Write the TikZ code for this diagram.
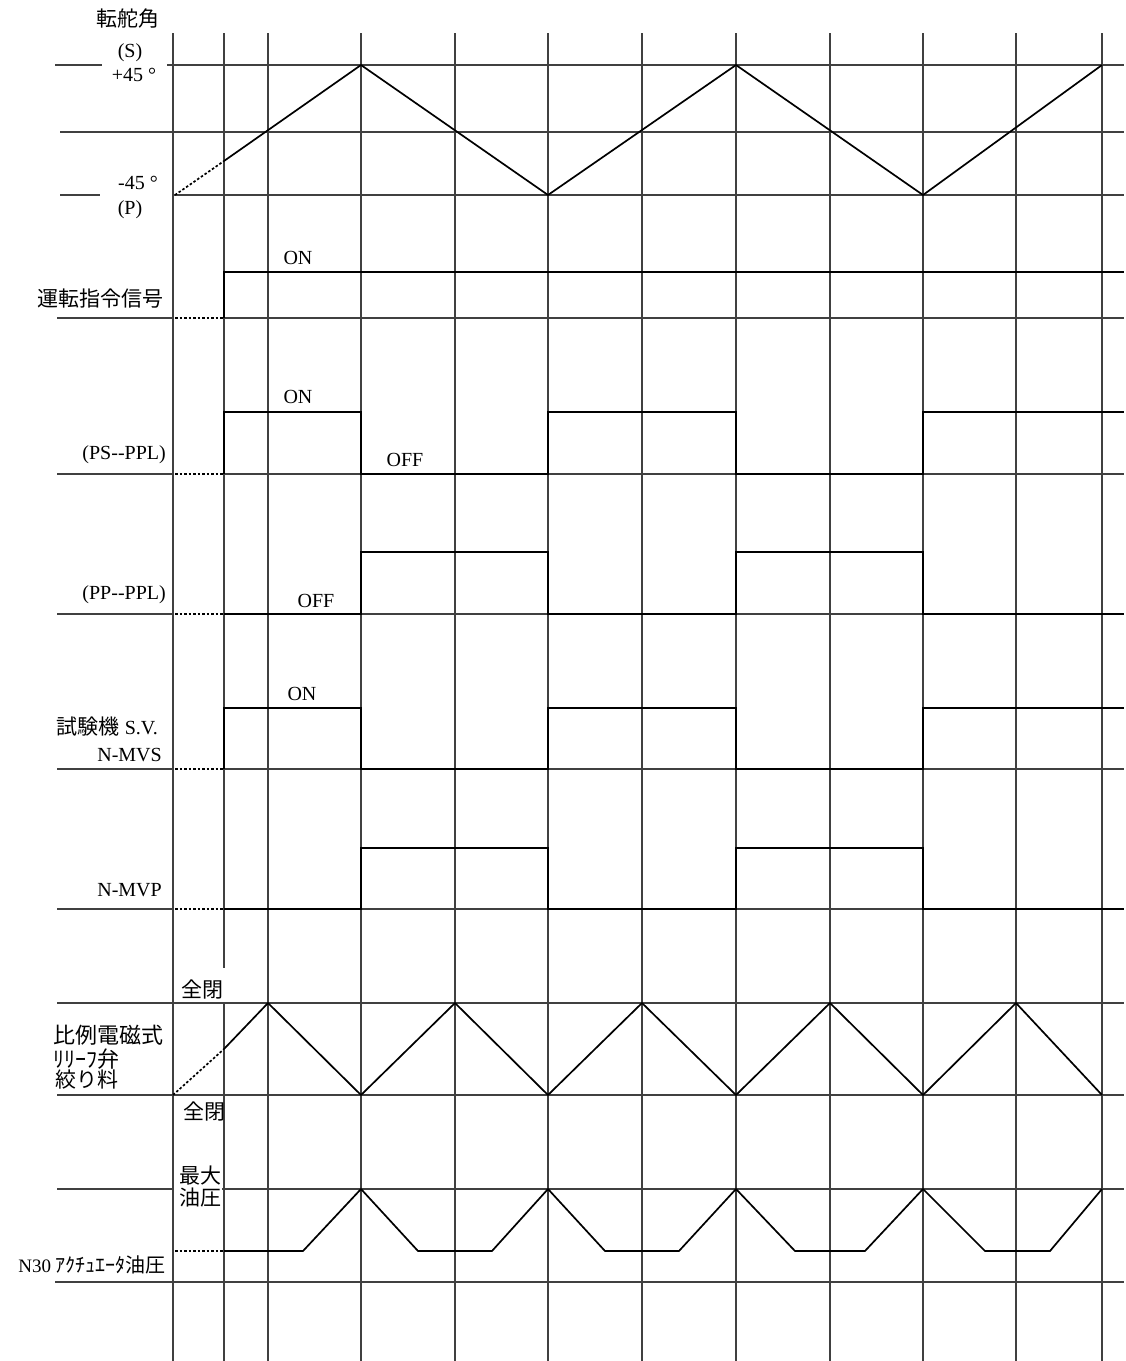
\documentclass[tikz,border=0pt]{standalone}
\usepackage{fontspec}
\setmainfont{Liberation Serif}
\newfontfamily\jp{Noto Sans CJK JP}
\tikzset{
  gridline/.style={line width=1.2pt, black!75},
  sig/.style={line width=1.7pt},
  dots/.style={line width=1.7pt, dash pattern=on 2.5pt off 2pt},
  lat/.style={font=\fontsize{20}{22}\selectfont, inner sep=0pt},
  jap/.style={font=\jp\fontsize{21}{24}\selectfont, inner sep=0pt},
}
\begin{document}
\begin{tikzpicture}[x=1pt, y=-1pt]
    \useasboundingbox (0,0) rectangle (1126,1361);
    \fill[white] (0,0) rectangle (1126,1361);

    % time grid
    \foreach \x in {173,268,361,455,548,642,736,830,923,1016,1102}
        \draw[gridline] (\x,33) -- (\x,1361);
    \draw[gridline] (224,33) -- (224,968) (224,1002) -- (224,1361);

    % level lines
    \draw[gridline] (55,65) -- (102,65) (167,65) -- (1124,65);
    \draw[gridline] (60,132) -- (1124,132);
    \draw[gridline] (60,195) -- (100,195) (173,195) -- (1124,195);
    \foreach \y in {318,474,614,769,909}
        \draw[gridline] (57,\y) -- (173,\y) (224,\y) -- (1124,\y);
    \draw[gridline] (57,1003) -- (1124,1003);
    \draw[gridline] (57,1095) -- (1124,1095);
    \draw[gridline] (57,1189) -- (173,1189) (222,1189) -- (1124,1189);
    \draw[gridline] (55,1282) -- (1124,1282);

    % rudder angle
    \draw[dots] (175,195) -- (224,161);
    \draw[sig] (224,161) -- (361,65) -- (548,195) -- (736,65) -- (923,195) -- (1102,65);
    \node[jap] (rudder) at (128,19) {転舵角};
    \node[lat] (sside) at (130,53) {(S)};
    \node[lat] (plus45) at (134,75) {+45 °};
    \node[lat] (minus45) at (138,183) {-45 °};
    \node[lat] (pside) at (130,210) {(P)};

    % run command
    \draw[dots] (175,318) -- (224,318);
    \draw[sig] (224,318) -- (224,272) -- (1124,272);
    \node[lat] (on1) at (298,258) {ON};
    \node[jap, anchor=east] (runcmd) at (164,299) {運転指令信号};

    % PS--PPL
    \draw[dots] (175,474) -- (224,474);
    \draw[sig] (224,474) |- (361,412) |- (548,474) |- (736,412) |- (923,474) |- (1124,412);
    \node[lat] (on2) at (298,397) {ON};
    \node[lat] (off2) at (405,460) {OFF};
    \node[lat, anchor=east] (pspl) at (166,455) {(PS-{}-PPL)};

    % PP--PPL
    \draw[dots] (175,614) -- (224,614);
    \draw[sig] (224,614) -- (361,614) |- (548,552) |- (736,614) |- (923,552) |- (1124,614);
    \node[lat] (off3) at (316,601) {OFF};
    \node[lat, anchor=east] (pppl) at (166,595) {(PP-{}-PPL)};

    % N-MVS
    \draw[dots] (175,769) -- (224,769);
    \draw[sig] (224,769) |- (361,708) |- (548,769) |- (736,708) |- (923,769) |- (1124,708);
    \node[lat] (on4) at (302,694) {ON};
    \node[anchor=east, inner sep=0pt] (tester) at (158,727) {{\jp\fontsize{21}{24}\selectfont 試験機}\fontsize{20}{22}\selectfont\ S.V.};
    \node[lat, anchor=east] (mvs) at (162,755) {N-MVS};

    % N-MVP
    \draw[dots] (175,909) -- (224,909);
    \draw[sig] (224,909) -- (361,909) |- (548,848) |- (736,909) |- (923,848) |- (1124,909);
    \node[lat, anchor=east] (mvp) at (162,890) {N-MVP};

    % relief valve throttle
    \draw[dots] (173,1095) -- (224,1049);
    \draw[sig] (224,1049) -- (268,1003) -- (361,1095) -- (455,1003) -- (548,1095) -- (642,1003)
        -- (736,1095) -- (830,1003) -- (923,1095) -- (1016,1003) -- (1102,1095);
    \node[jap] (open1) at (202,989) {全閉};
    \node[jap, anchor=west, font=\jp\fontsize{22}{24}\selectfont] (valve1) at (53,1035) {比例電磁式};
    \node[jap, anchor=west, font=\jp\fontsize{22}{24}\selectfont] (valve2) at (53,1059) {ﾘﾘｰﾌ弁};
    \node[jap, anchor=west] (valve3) at (55,1080) {絞り料};
    \node[jap] (shut1) at (204,1111) {全閉};

    % actuator pressure
    \draw[dots] (175,1251) -- (224,1251);
    \draw[sig] (224,1251) -- (303,1251) -- (361,1189) -- (418,1251) -- (492,1251) -- (548,1189)
        -- (605,1251) -- (679,1251) -- (736,1189) -- (795,1251) -- (865,1251) -- (923,1189)
        -- (985,1251) -- (1050,1251) -- (1102,1189);
    \node[jap, anchor=west] (maxp1) at (179,1176) {最大};
    \node[jap, anchor=west] (maxp2) at (179,1198) {油圧};
    \node[anchor=east, inner sep=0pt] (n30) at (166,1265) {\fontsize{19}{22}\selectfont N30 {\jp\fontsize{20}{22}\selectfont ｱｸﾁｭｴｰﾀ油圧}};

\end{tikzpicture}
\end{document}
